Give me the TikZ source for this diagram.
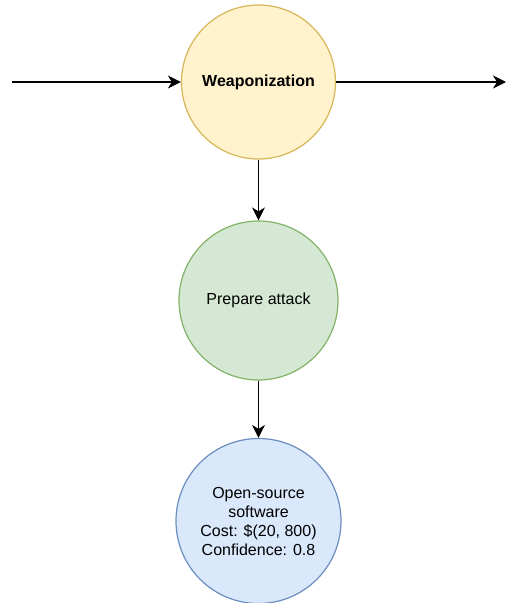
\documentclass[tikz,border=0pt]{standalone}
\usepackage{fontspec}
\setmainfont{Liberation Sans}
\usetikzlibrary{arrows.meta}
\definecolor{yfill}{HTML}{FFF2CC}
\definecolor{ydraw}{HTML}{D6B656}
\definecolor{gfill}{HTML}{D5E8D4}
\definecolor{gdraw}{HTML}{82B366}
\definecolor{bfill}{HTML}{DAE8FC}
\definecolor{bdraw}{HTML}{6C8EBF}
\tikzset{
  stage/.style={circle, line width=1.2pt, inner sep=0pt, align=center,
    font=\fontsize{16}{19}\selectfont},
  link/.style={line width=1.3pt, draw=black,
    -{Triangle[length=13pt, width=13pt, inset=4pt]}},
}
\begin{document}
\begin{tikzpicture}[x=1pt, y=-1pt]
\useasboundingbox (0,0) rectangle (507,603);
\node[stage, fill=yfill, draw=ydraw, minimum size=154pt, font=\fontsize{16}{19}\selectfont\bfseries]
  (weap) at (258.5,82) {Weaponization};
\node[stage, fill=gfill, draw=gdraw, minimum size=159pt]
  (prep) at (258.5,300.5) {Prepare attack};
\node[stage, fill=bfill, draw=bdraw, minimum size=165pt]
  (oss) at (258.5,521) {Open-source\\software\\Cost: \$(20, 800)\\Confidence: 0.8};
\coordinate (inL) at (12,82);
\coordinate (outR) at (506,82);
\draw[link] (inL) -- (weap.west);
\draw[link] (weap.east) -- (outR);
\draw[link] (weap.south) -- (prep.north);
\draw[link] (prep.south) -- (oss.north);
\end{tikzpicture}
\end{document}
